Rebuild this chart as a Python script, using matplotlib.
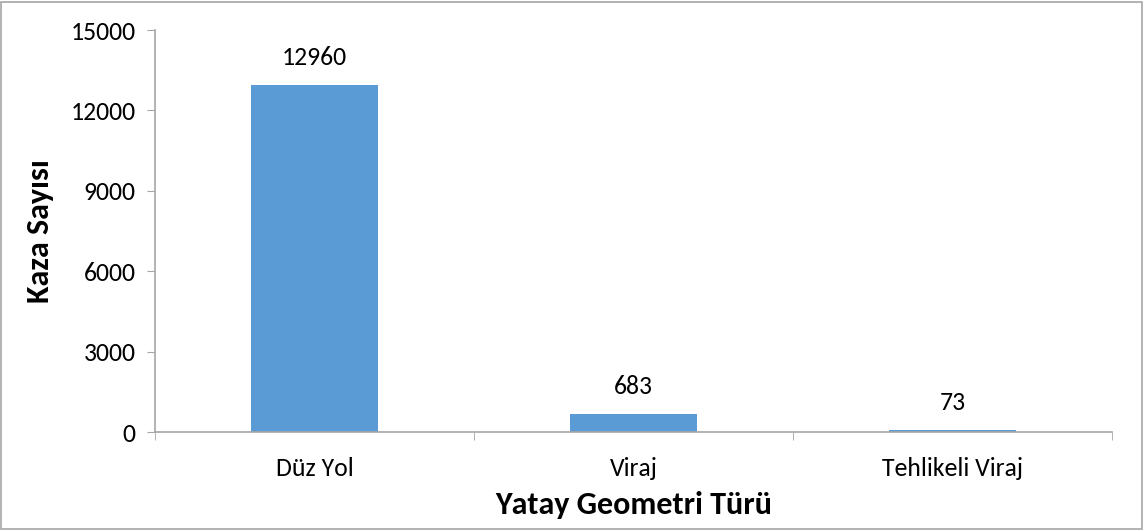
import matplotlib
matplotlib.use('Agg')
import matplotlib.pyplot as plt
from matplotlib.patches import Rectangle

categories = ['Düz Yol', 'Viraj', 'Tehlikeli Viraj']
kaza = [12960, 683, 73]
yticks = [0, 3000, 6000, 9000, 12000, 15000]

plt.rcParams['font.family'] = ['Carlito', 'Lato', 'DejaVu Sans']

fig = plt.figure(figsize=(11.44, 5.31), dpi=100)
ax = fig.add_axes([0.1355, 0.1864, 0.8365, 0.7571])

x = range(len(categories))
bars = ax.bar(x, kaza, width=0.4, color='#5B9BD5', zorder=2)
for xi, v in zip(x, kaza):
    ax.text(xi, v + 600, str(v), ha='center', va='bottom', fontsize=18.5)

ax.set_xlim(-0.5, len(categories) - 0.5)
ax.set_ylim(0, 15000)
ax.set_yticks(yticks)
ax.set_yticklabels([str(t) for t in yticks], fontsize=18.5)
ax.set_xticks(list(x))
ax.set_xticklabels(categories, fontsize=18.5)
ax.tick_params(axis='x', length=0, pad=18)
ax.set_xticks([-0.5, 0.5, 1.5, 2.5], minor=True)
ax.tick_params(axis='x', which='minor', length=6, color='#A6A6A6', direction='out')
ax.tick_params(axis='y', length=6, color='#A6A6A6', direction='out', pad=8)

for s in ['top', 'right']:
    ax.spines[s].set_visible(False)
for s in ['left', 'bottom']:
    ax.spines[s].set_color('#A6A6A6')
    ax.spines[s].set_linewidth(1.2)

ax.set_ylabel('Kaza Sayısı', fontsize=23, fontweight='bold', labelpad=12)
ax.set_xlabel('Yatay Geometri Türü', fontsize=23, fontweight='bold', labelpad=8)

fig.patches.append(Rectangle((0.001, 0.003), 0.997, 0.994, transform=fig.transFigure,
                             fill=False, edgecolor='#A6A6A6', linewidth=1.2))

fig.savefig('out.png', dpi=100)
